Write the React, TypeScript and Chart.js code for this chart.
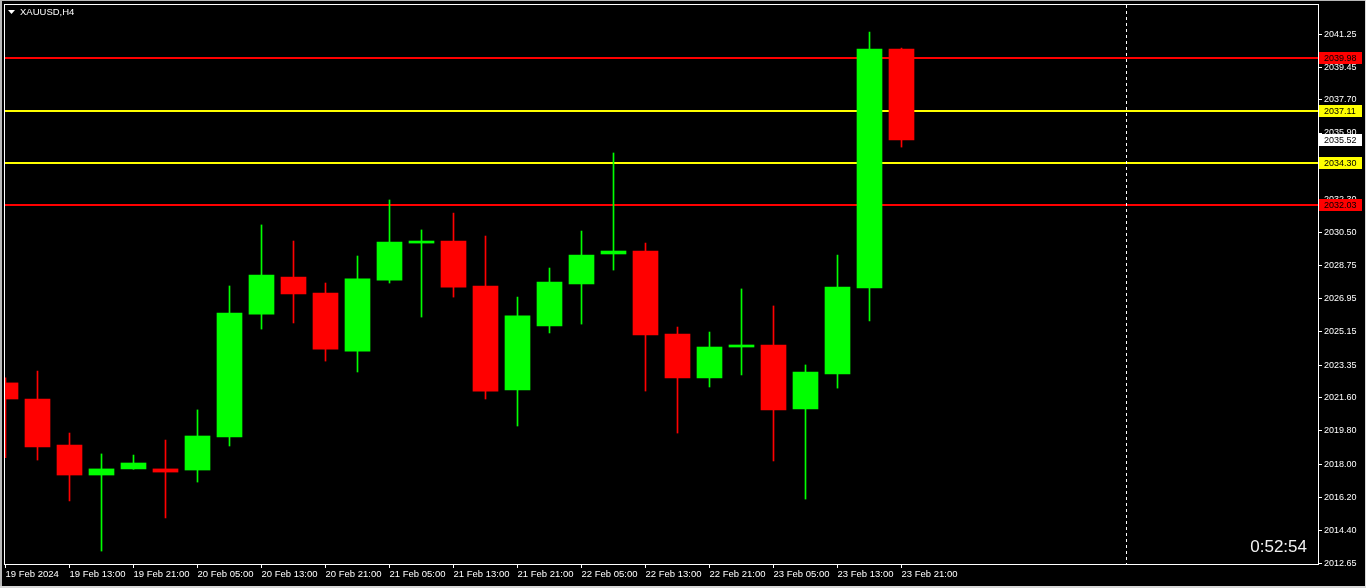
import React, { useEffect, useRef } from 'react';
import { Chart, registerables } from 'chart.js';

Chart.register(...registerables);

// ---- data ----
const candleTimes = [
  '19 Feb 05:00', '19 Feb 09:00', '19 Feb 13:00', '19 Feb 17:00', '19 Feb 21:00',
  '20 Feb 01:00', '20 Feb 05:00', '20 Feb 09:00', '20 Feb 13:00', '20 Feb 17:00',
  '20 Feb 21:00', '21 Feb 01:00', '21 Feb 05:00', '21 Feb 09:00', '21 Feb 13:00',
  '21 Feb 17:00', '21 Feb 21:00', '22 Feb 01:00', '22 Feb 05:00', '22 Feb 09:00',
  '22 Feb 13:00', '22 Feb 17:00', '22 Feb 21:00', '23 Feb 01:00', '23 Feb 05:00',
  '23 Feb 09:00', '23 Feb 13:00', '23 Feb 17:00', '23 Feb 21:00',
];
const openPrices = [
  2022.39, 2021.52, 2019.03, 2017.41, 2017.74, 2017.74, 2017.68, 2019.47, 2026.11, 2028.11,
  2027.25, 2024.11, 2027.95, 2029.95, 2030.06, 2027.63, 2022.01, 2025.47, 2027.74, 2029.36,
  2029.52, 2025.03, 2022.66, 2024.33, 2024.44, 2020.98, 2022.87, 2027.52, 2040.44,
];
const highPrices = [
  2022.67, 2023.03, 2019.68, 2018.55, 2018.49, 2019.30, 2020.93, 2027.63, 2030.93, 2030.06,
  2027.79, 2029.25, 2032.28, 2030.66, 2031.57, 2030.33, 2027.03, 2028.60, 2030.60, 2034.82,
  2029.95, 2025.41, 2025.14, 2027.47, 2026.55, 2023.36, 2029.30, 2041.36, 2040.49,
];
const lowPrices = [
  2018.35, 2018.22, 2016.01, 2013.30, 2017.72, 2015.09, 2017.03, 2018.98, 2025.30, 2025.63,
  2023.57, 2022.98, 2027.79, 2025.95, 2027.03, 2021.52, 2020.06, 2025.09, 2025.57, 2028.49,
  2021.95, 2019.68, 2022.17, 2022.82, 2018.17, 2016.11, 2022.11, 2025.74, 2035.14,
];
const closePrices = [
  2021.52, 2018.93, 2017.41, 2017.74, 2018.06, 2017.57, 2019.52, 2026.17, 2028.22, 2027.20,
  2024.22, 2028.01, 2030.01, 2030.06, 2027.57, 2021.95, 2026.01, 2027.84, 2029.30, 2029.52,
  2024.98, 2022.66, 2024.33, 2024.44, 2020.93, 2022.98, 2027.57, 2040.44, 2035.52,
];
const xTickIndices = [0, 2, 4, 6, 8, 10, 12, 14, 16, 18, 20, 22, 24, 26, 28];
const xTickLabels = [
  '19 Feb 2024', '19 Feb 13:00', '19 Feb 21:00', '20 Feb 05:00', '20 Feb 13:00',
  '20 Feb 21:00', '21 Feb 05:00', '21 Feb 13:00', '21 Feb 21:00', '22 Feb 05:00',
  '22 Feb 13:00', '22 Feb 21:00', '23 Feb 05:00', '23 Feb 13:00', '23 Feb 21:00',
];
const yTickValues = [
  2041.25, 2039.45, 2037.70, 2035.90, 2034.10, 2032.30, 2030.50, 2028.75, 2026.95,
  2025.15, 2023.35, 2021.60, 2019.80, 2018.00, 2016.20, 2014.40, 2012.65,
];
const redLevels = [2039.98, 2032.03];
const yellowLevels = [2037.11, 2034.30];
const separatorIndex = 35;
const symbolLabel = 'XAUUSD,H4';
const timerLabel = '0:52:54';

const FONT = "'Liberation Sans', Arial, sans-serif";
const BULL = '#00ff00';
const BEAR = '#ff0000';

const overlayPlugin = {
  id: 'mt4Overlay',
  beforeDraw(chart: any) {
    const { ctx, width, height } = chart;
    ctx.save();
    ctx.fillStyle = '#000000';
    ctx.fillRect(0, 0, width, height);
    ctx.fillStyle = '#b8b8b8';
    ctx.fillRect(0, 0, 2, height);
    ctx.fillRect(0, 0, width, 1);
    ctx.fillStyle = '#d8d8d8';
    ctx.fillRect(0, height - 2, width, 2);
    ctx.fillRect(width - 1, 0, 1, height);
    ctx.restore();
  },
  beforeDatasetsDraw(chart: any) {
    const { ctx, chartArea } = chart;
    const ys = chart.scales.y;
    const xs = chart.scales.x;
    ctx.save();
    const drawLevel = (v: number, color: string) => {
      const py = Math.round(ys.getPixelForValue(v));
      ctx.fillStyle = color;
      ctx.fillRect(chartArea.left, py - 1, chartArea.right - chartArea.left, 2);
    };
    redLevels.forEach((v) => drawLevel(v, '#ff0000'));
    yellowLevels.forEach((v) => drawLevel(v, '#ffff00'));
    // dashed separator
    const px = Math.round(xs.getPixelForValue(separatorIndex)) + 0.5;
    ctx.strokeStyle = '#ffffff';
    ctx.lineWidth = 1;
    ctx.setLineDash([3, 3]);
    ctx.beginPath();
    ctx.moveTo(px, chartArea.top);
    ctx.lineTo(px, chartArea.bottom);
    ctx.stroke();
    ctx.restore();
  },
  afterDraw(chart: any) {
    const { ctx, chartArea } = chart;
    const ys = chart.scales.y;
    ctx.save();
    // plot frame
    ctx.strokeStyle = '#ffffff';
    ctx.lineWidth = 1;
    ctx.strokeRect(chartArea.left - 0.5, chartArea.top - 0.5,
      chartArea.right - chartArea.left + 1, chartArea.bottom - chartArea.top + 1);

    // price tags
    const tag = (v: number, bg: string) => {
      const py = Math.round(ys.getPixelForValue(v));
      ctx.fillStyle = bg;
      ctx.fillRect(chartArea.right + 1, py - 6, 43, 12);
      ctx.fillStyle = '#000000';
      ctx.font = `9px ${FONT}`;
      ctx.textAlign = 'left';
      ctx.textBaseline = 'middle';
      ctx.fillText(v.toFixed(2), chartArea.right + 6, py + 0.5);
    };
    redLevels.forEach((v) => tag(v, '#ff0000'));
    yellowLevels.forEach((v) => tag(v, '#ffff00'));
    tag(closePrices[closePrices.length - 1], '#ffffff');

    // symbol title
    ctx.fillStyle = '#ffffff';
    ctx.beginPath();
    ctx.moveTo(8, 10);
    ctx.lineTo(15, 10);
    ctx.lineTo(11.5, 14);
    ctx.closePath();
    ctx.fill();
    ctx.font = `9.5px ${FONT}`;
    ctx.textAlign = 'left';
    ctx.textBaseline = 'middle';
    ctx.fillText(symbolLabel, 20, 12.5);

    // countdown timer
    ctx.font = `17px ${FONT}`;
    ctx.textAlign = 'right';
    ctx.textBaseline = 'alphabetic';
    ctx.fillStyle = '#f2f2f2';
    ctx.fillText(timerLabel, 1307, 552);
    ctx.restore();
  },
};

export default function App() {
  const canvasRef = useRef<HTMLCanvasElement | null>(null);

  useEffect(() => {
    const canvas = canvasRef.current;
    if (!canvas) return;

    const bodyColors = openPrices.map((o, i) => (closePrices[i] >= o ? BULL : BEAR));

    const chart = new Chart(canvas, {
      type: 'bar',
      data: {
        datasets: [
          {
            label: 'Body',
            data: candleTimes.map((_, i) => ({ x: i, y: [openPrices[i], closePrices[i]] })) as any,
            backgroundColor: bodyColors,
            borderWidth: 0,
            barThickness: 25,
            minBarLength: 2,
            grouped: false,
            clip: 0,
            order: 0,
          } as any,
          {
            label: 'Wick',
            data: candleTimes.map((_, i) => ({ x: i, y: [lowPrices[i], highPrices[i]] })) as any,
            backgroundColor: bodyColors,
            borderWidth: 0,
            barThickness: 1,
            grouped: false,
            clip: 0,
            order: 1,
          } as any,
        ],
      },
      options: {
        responsive: false,
        maintainAspectRatio: false,
        animation: false,
        devicePixelRatio: 1,
        layout: { padding: { left: 5, top: 5, right: 0, bottom: 0 } },
        plugins: {
          legend: { display: false },
          tooltip: { enabled: false },
          title: { display: false },
        },
        scales: {
          x: {
            type: 'linear',
            position: 'bottom',
            min: -0.015625,
            max: 41.015625,
            offset: false,
            grid: {
              display: true,
              offset: false,
              drawOnChartArea: false,
              drawTicks: true,
              tickLength: 4,
              color: '#ffffff',
              tickColor: '#ffffff',
            },
            border: { display: false },
            afterBuildTicks: (scale: any) => {
              scale.ticks = xTickIndices.map((v) => ({ value: v }));
            },
            afterFit: (scale: any) => {
              scale.height = 24;
              scale.paddingLeft = 0;
              scale.paddingRight = 0;
              scale.paddingTop = 0;
              scale.paddingBottom = 0;
            },
            ticks: {
              autoSkip: false,
              maxRotation: 0,
              minRotation: 0,
              align: 'start',
              padding: 1,
              color: '#ffffff',
              font: { family: FONT, size: 9.5 },
              callback: (_v: any, idx: number) => xTickLabels[idx],
            },
          } as any,
          y: {
            type: 'linear',
            position: 'right',
            min: 2012.60,
            max: 2042.82,
            beginAtZero: false,
            grid: {
              display: true,
              drawOnChartArea: false,
              drawTicks: true,
              tickLength: 4,
              color: '#ffffff',
              tickColor: '#ffffff',
            },
            border: { display: false },
            afterBuildTicks: (scale: any) => {
              scale.ticks = yTickValues.map((v) => ({ value: v }));
            },
            afterFit: (scale: any) => {
              scale.width = 48;
              scale.paddingTop = 0;
              scale.paddingBottom = 0;
              scale.paddingLeft = 0;
              scale.paddingRight = 0;
            },
            ticks: {
              padding: 2,
              color: '#ffffff',
              font: { family: FONT, size: 9 },
              callback: (v: any) => Number(v).toFixed(2),
            },
          } as any,
        },
      },
      plugins: [overlayPlugin],
    });

    return () => {
      chart.destroy();
    };
  }, []);

  return (
    <div style={{ position: 'fixed', left: 0, top: 0, width: 1366, height: 588, background: '#000' }}>
      <canvas ref={canvasRef} width={1366} height={588} style={{ display: 'block', width: 1366, height: 588 }} />
    </div>
  );
}
